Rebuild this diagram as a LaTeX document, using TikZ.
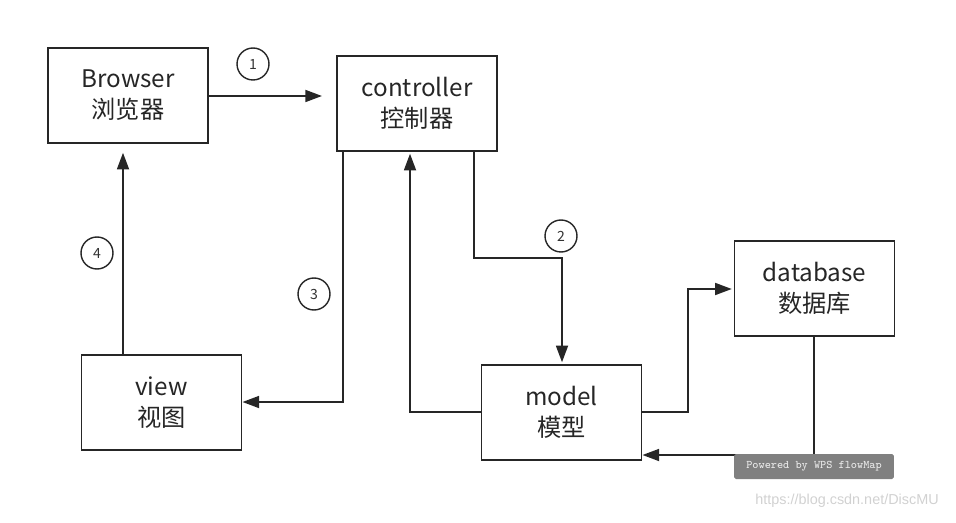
\documentclass[tikz,border=0pt]{standalone}
\usepackage{fontspec}
\setmainfont{Noto Sans CJK SC}
\newfontfamily\urlfont{Liberation Sans}
\usetikzlibrary{positioning, arrows.meta, calc}

\begin{document}
\begin{tikzpicture}[
    x=0.02cm, y=-0.02cm,
    block/.style={rectangle, draw=black!85, line width=1.1pt, minimum width=3.2cm, minimum height=1.9cm, align=center, font=\fontsize{13.8}{17.6}\selectfont, text=black!85},
    num/.style={circle, draw=black!85, line width=0.8pt, minimum size=0.64cm, inner sep=0pt, font=\fontsize{8}{9}\selectfont, text=black!80},
    flow/.style={-{Triangle[length=9.5pt, width=6.8pt]}, line width=1.1pt, draw=black!85}
]
\useasboundingbox (0,0) rectangle (956,523);

% --- blocks ---
\node[block] (browser) at (128,95.5)  {Browser\\浏览器};
\node[block] (ctrl)    at (417,103.5) {controller\\控制器};
\node[block] (view)    at (161.5,402.5) {view\\视图};
\node[block] (model)   at (561.5,412.5) {model\\模型};
\node[block] (db)      at (814.5,288.5) {database\\数据库};

% --- step numbers ---
\node[num] (n1) at (253,64)  {1};
\node[num] (n2) at (561,236) {2};
\node[num] (n3) at (314,294) {3};
\node[num] (n4) at (97,253)  {4};

% --- connectors ---
% 1: request
\draw[flow, shorten >=8pt] (browser.east |- 0,96) -- (ctrl.west |- 0,96);
% 2: controller asks model
\draw[flow, shorten >=1pt] (ctrl.south -| 474,0) |- (562,258) -- (model.north -| 562,0);
% 3: controller picks view
\draw[flow] (ctrl.south -| 343,0) |- (view.east |- 0,402);
% 4: view back to browser
\draw[flow, shorten >=5pt] (view.north -| 123,0) -- (browser.south -| 123,0);
% model returns to controller
\draw[flow, shorten >=1pt] (model.west |- 0,412) -| (ctrl.south -| 410,0);
% model <-> database
\draw[flow, shorten >=1pt] (model.east |- 0,412) -| (688,350) |- (db.west |- 0,289);
\draw[flow] (db.south -| 814,0) |- (model.east |- 0,455);

% --- watermark ---
\node[fill=black!50, rounded corners=1pt, minimum width=3.2cm, minimum height=0.5cm, inner sep=0pt, text=black!8, font=\ttfamily\fontsize{6.6}{7}\selectfont] (wm) at (814,466.5) {Powered by WPS flowMap};
\node[text=black!18, font=\urlfont\fontsize{8.2}{10}\selectfont, inner sep=0pt] (url) at (847,501) {https://blog.csdn.net/DiscMU};

\end{tikzpicture}
\end{document}
